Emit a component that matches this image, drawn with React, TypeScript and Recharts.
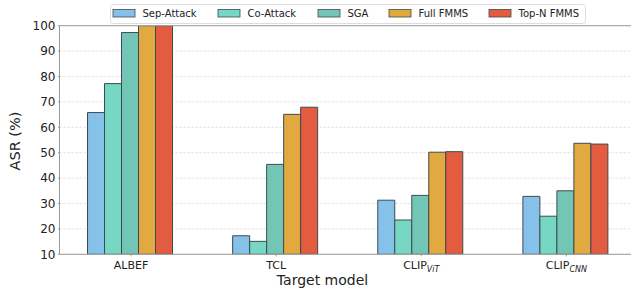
import React from 'react';
import { BarChart, Bar, XAxis, YAxis, CartesianGrid, ReferenceLine } from 'recharts';

const categories = ['ALBEF', 'TCL', 'CLIP_ViT', 'CLIP_CNN'];
const sepAttack = [65.8, 17.3, 31.3, 32.8];
const coAttack = [77.2, 15.1, 23.5, 25.0];
const sga = [97.3, 45.4, 33.2, 35.0];
const fullFmms = [100, 65.1, 50.2, 53.7];
const topNFmms = [100, 67.9, 50.4, 53.4];
const yTicks = [10, 20, 30, 40, 50, 60, 70, 80, 90, 100];

const seriesNames = ['Sep-Attack', 'Co-Attack', 'SGA', 'Full FMMS', 'Top-N FMMS'];
const seriesKeys = ['sep', 'co', 'sga', 'full', 'topn'];
const seriesColors = ['#85C1E9', '#76D7C4', '#73C6B6', '#E1A940', '#E35C40'];

const data = categories.map((c, i) => ({
  name: c,
  sep: sepAttack[i],
  co: coAttack[i],
  sga: sga[i],
  full: fullFmms[i],
  topn: topNFmms[i],
}));

const FONT = 'DejaVu Sans, sans-serif';

const XTick = (props: any) => {
  const { x, y, payload } = props;
  const parts = String(payload.value).split('_');
  return (
    <text x={x} y={y + 11} textAnchor="middle" fontFamily={FONT} fontSize={11} fill="#222">
      <tspan>{parts[0]}</tspan>
      {parts[1] ? (
        <tspan fontSize={8} fontStyle="italic" dy={3}>{parts[1]}</tspan>
      ) : null}
    </text>
  );
};

const LegendBox = () => {
  const itemX = [113, 218, 318, 389, 489];
  return (
    <svg width={631} height={26} style={{ position: 'absolute', left: 0, top: 0 }}>
      <rect x={110.5} y={4.5} width={475} height={19} rx={3} fill="#fff" fillOpacity={0.85} stroke="#ddd" />
      {seriesNames.map((n, i) => (
        <g key={n}>
          <rect x={itemX[i]} y={9.5} width={22} height={7.5} fill={seriesColors[i]} stroke="#3d4b4f" strokeWidth={0.8} />
          <text x={itemX[i] + 29.5} y={17} fontFamily={FONT} fontSize={10} fill="#222">{n}</text>
        </g>
      ))}
    </svg>
  );
};

export default function App() {
  return (
    <div style={{ position: 'absolute', left: 0, top: 0, width: 631, height: 293, background: '#fff' }}>
      <BarChart
        width={631}
        height={293}
        data={data}
        margin={{ top: 25.7, right: 0, bottom: 0, left: 0 }}
        barCategoryGap="20%"
        barGap={0}
      >
        <CartesianGrid horizontal vertical={false} stroke="#ddd" strokeDasharray="2 2" />
        <XAxis
          dataKey="name"
          height={38.7}
          padding={{ left: -1, right: -8 }}
          tick={<XTick />}
          tickSize={2}
          axisLine={{ stroke: '#999' }}
          tickLine={{ stroke: '#999' }}
          interval={0}
          label={{
            content: () => (
              <text x={322.5} y={285} textAnchor="middle" fontFamily={FONT} fontSize={14} fill="#222">
                Target model
              </text>
            ),
          }}
        />
        <YAxis
          width={59.5}
          domain={[10, 100]}
          ticks={yTicks}
          allowDataOverflow
          tickSize={1.5}
          tickMargin={2.5}
          axisLine={{ stroke: '#999' }}
          tickLine={{ stroke: '#999' }}
          tick={{ fontFamily: FONT, fontSize: 12, fill: '#222' }}
          label={{
            content: () => (
              <text
                x={20}
                y={141}
                transform="rotate(-90 20 141)"
                textAnchor="middle"
                fontFamily={FONT}
                fontSize={14.5}
                fill="#222"
              >
                ASR (%)
              </text>
            ),
          }}
        />
        <ReferenceLine y={100} stroke="#999" strokeWidth={1} />
        {seriesKeys.map((k, i) => (
          <Bar
            key={k}
            dataKey={k}
            name={seriesNames[i]}
            fill={seriesColors[i]}
            stroke="#3d4b4f"
            strokeWidth={1}
            isAnimationActive={false}
          />
        ))}
      </BarChart>
      <LegendBox />
    </div>
  );
}
